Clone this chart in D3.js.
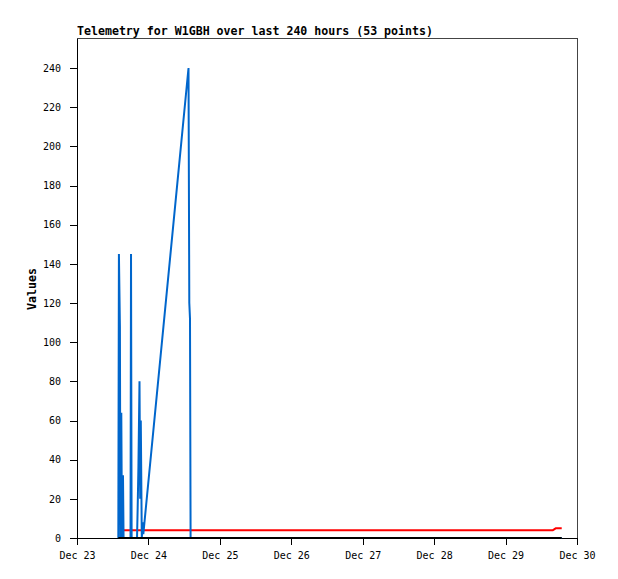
<!DOCTYPE html>
<html><head><meta charset="utf-8">
<script src="https://cdn.jsdelivr.net/npm/d3@7"></script>
<style>
body{margin:0;background:#fff;}
svg text{font-family:"DejaVu Sans Mono",monospace;}
</style></head><body>
<svg id="c" width="618" height="579"></svg>
<script>
const titleText = "Telemetry for W1GBH over last 240 hours (53 points)";
const yLabel = "Values";
const xTickLabels = ["Dec 23","Dec 24","Dec 25","Dec 26","Dec 27","Dec 28","Dec 29","Dec 30"];
const yTicks = [0,20,40,60,80,100,120,140,160,180,200,220,240];

// times as "day hh:mm" (December)
const blueTimes = ["23 13:53","23 14:05","23 14:25","23 14:35","23 14:53","23 15:07","23 15:27","23 15:39",
  "23 17:59","23 18:09","23 18:21",
  "23 20:10","23 20:22","23 20:38","23 21:00","23 21:14","23 21:26","23 21:46","23 22:07","23 22:17",
  "24 13:28","24 13:44","24 13:58","24 14:10","29 18:52"];
const blueValues = [0,145,108,0,64,0,32,0,
  0,145,0,
  0,14,36,80,20,60,0,8,2,
  240,120,112,0,0];
const redTimes = ["23 15:37","29 15:56","29 16:57","29 18:52"];
const redValues = [4,4,5,5];
const blackTimes = ["23 13:53","29 18:52"];
const blackValues = [0,0];

const parse = s => { const [d,t] = s.split(" "); const [h,m] = t.split(":"); return new Date(2012,11,+d,+h,+m); };

const svg = d3.select("#c");
const L = 77, R = 577, T = 38, B = 538;
const x = d3.scaleTime().domain([new Date(2012,11,23), new Date(2012,11,30)]).range([L,R]);
const y = d3.scaleLinear().domain([0, 240 * (B - T) / (B - 68)]).range([B,T]);

// frame top/right
svg.append("path").attr("d",`M${L},${T+0.5}H${R+0.5}V${B}`).attr("fill","none").attr("stroke","#444").attr("stroke-width",1).attr("shape-rendering","crispEdges");

// y axis
const ya = svg.append("g").attr("transform",`translate(${L},0)`)
  .call(d3.axisLeft(y).tickValues(yTicks).tickSize(7).tickPadding(9).tickSizeOuter(0));
// x axis
const xa = svg.append("g").attr("transform",`translate(0,${B})`)
  .call(d3.axisBottom(x).tickValues(xTickLabels.map((_,i)=>new Date(2012,11,23+i))).tickFormat((d,i)=>xTickLabels[i]).tickSize(7).tickPadding(7).tickSizeOuter(0));
[ya,xa].forEach(g=>{
  g.selectAll("path,line").attr("stroke","#000").attr("shape-rendering","crispEdges");
  g.selectAll("text").attr("font-size","10px").attr("fill","#000").attr("font-family","DejaVu Sans Mono");
});

const line = d3.line().x(d=>x(d[0])).y(d=>y(d[1]));
function series(times, vals, color){
  svg.append("path").datum(times.map((t,i)=>[parse(t), vals[i]]))
    .attr("d", line).attr("fill","none").attr("stroke",color).attr("stroke-width",2)
    .attr("stroke-linejoin","bevel");
}
series(redTimes, redValues, "#ff0000");
series(blueTimes, blueValues, "#0066cc");
series(blackTimes, blackValues, "#000000");

svg.append("text").attr("x",L).attr("y",35).attr("font-size","11.6px").attr("font-weight","bold").text(titleText);
svg.append("text").attr("transform","translate(36,289) rotate(-90)").attr("text-anchor","middle")
  .attr("font-size","11.6px").attr("font-weight","bold").text(yLabel);
</script></body></html>
